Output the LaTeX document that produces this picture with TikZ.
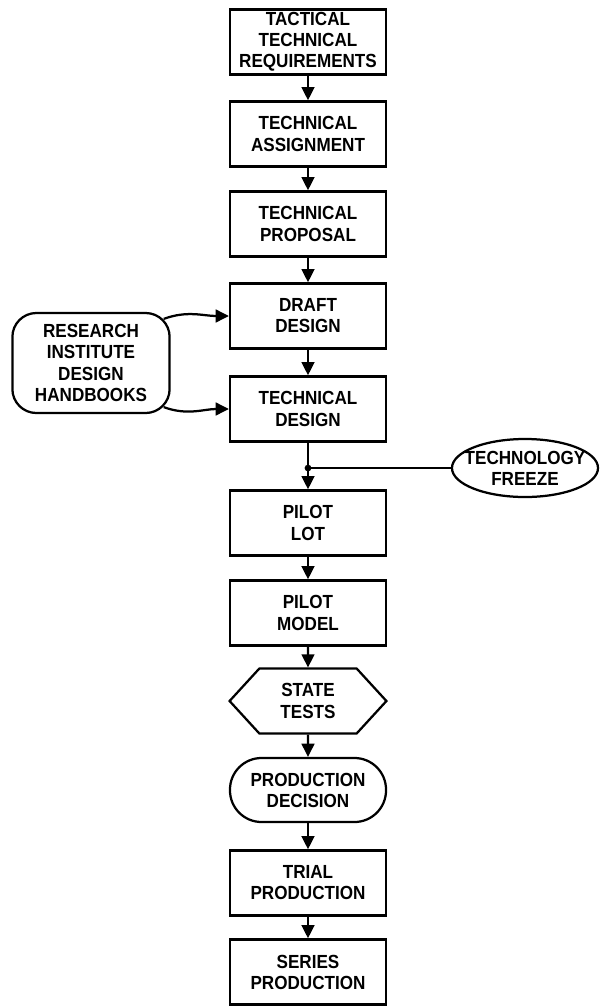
\documentclass[tikz,border=0pt]{standalone}
\usepackage{fontspec}
\setmainfont[FakeStretch=0.9]{Liberation Sans}
\usepackage{tikz}
\usetikzlibrary{calc,shapes.geometric,shapes.symbols,arrows.meta}

\begin{document}
\begin{tikzpicture}[x=0.025cm, y=-0.025cm, line width=1.6pt,
    >={Triangle[length=3.3mm,width=3.2mm]},
    txt/.style={align=center, inner sep=0pt, font=\bfseries\fontsize{13.5}{15}\selectfont},
    stage/.style={txt, draw, minimum width=3.9cm, minimum height=1.63cm},
    source/.style={txt, draw, rounded corners=0.6cm, minimum width=3.93cm, minimum height=2.5cm},
    tests/.style={txt, draw, shape=signal, signal to=east and west, signal pointer angle=95, minimum width=3.92cm, minimum height=1.62cm},
    decision/.style={txt, draw, rounded corners=0.79cm, minimum width=3.9cm, minimum height=1.6cm},
    freeze/.style={draw, shape=ellipse, minimum width=3.65cm, minimum height=1.45cm, inner sep=0pt}]
    \useasboundingbox (0,0) rectangle (600,1008);

    % main line of stages
    \node[stage] (ttr) at (308,42) {TACTICAL\\TECHNICAL\\REQUIREMENTS};
    \node[stage] (assign) at (308,134) {TECHNICAL\\ASSIGNMENT};
    \node[stage] (proposal) at (308,224) {TECHNICAL\\PROPOSAL};
    \node[stage] (draft) at (308,316) {DRAFT\\DESIGN};
    \node[stage] (techdesign) at (308,409) {TECHNICAL\\DESIGN};
    \node[stage] (pilotlot) at (308,523) {PILOT\\LOT};
    \node[stage] (pilotmodel) at (308,613) {PILOT\\MODEL};
    \node[tests] (statetests) at (308,701) {STATE\\TESTS};
    \node[decision] (decision) at (308,790) {PRODUCTION\\DECISION};
    \node[stage] (trial) at (308,883) {TRIAL\\PRODUCTION};
    \node[stage] (series) at (308,972) {SERIES\\PRODUCTION};

    % side inputs
    \node[source] (research) at (91,363) {RESEARCH\\INSTITUTE\\DESIGN\\HANDBOOKS};
    \node[freeze] (freeze) at (525,468) {};
    \node[txt] (freezetext) at (freeze) {TECHNOLOGY\\FREEZE};
    \coordinate (fork) at (308,468);

    \foreach \a/\b in {ttr/assign, assign/proposal, proposal/draft, draft/techdesign,
        pilotlot/pilotmodel, pilotmodel/statetests, statetests/decision,
        decision/trial, trial/series}
      \draw[->] (\a) -- (\b);

    \draw (techdesign) -- (fork);
    \draw[->] (fork) -- (pilotlot);
    \draw (fork) -- (freeze.west);
    \fill (fork) circle (2.4pt);

    % handbooks feed both design stages, leaving from the rounded corners
    \draw[->] ($(research.north east)+(-7,7)$) to[out=20, in=180] (draft.west);
    \draw[->] ($(research.south east)+(-7,-7)$) to[out=-20, in=180] (techdesign.west);
\end{tikzpicture}
\end{document}
